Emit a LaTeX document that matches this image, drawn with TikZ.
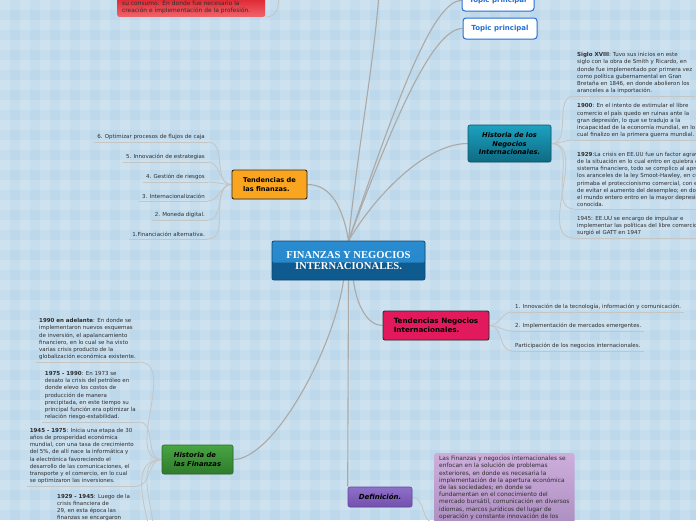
\documentclass[tikz,border=0pt]{standalone}
\usepackage{fontspec}
\setmainfont{DejaVu Sans}
\newfontfamily\titlefont{Liberation Serif}
\usetikzlibrary{positioning,shadows}
\definecolor{mmBg}{HTML}{BED8EB}
\definecolor{mmLink}{HTML}{ABA9A6}
\definecolor{mmTwig}{HTML}{C4C5C5}
\definecolor{mmText}{HTML}{2E2E2E}
\definecolor{mmEdge}{HTML}{2B2B2B}
\definecolor{mmFinTop}{HTML}{2A8CD0}
\definecolor{mmFinBot}{HTML}{0F5A8E}
\definecolor{mmFinLine}{HTML}{0B4A78}
\definecolor{mmTealTop}{HTML}{1CA2C0}
\definecolor{mmTealBot}{HTML}{0E6A83}
\definecolor{mmTealLine}{HTML}{0A5568}
\definecolor{mmOrange}{HTML}{F9A51F}
\definecolor{mmRose}{HTML}{E3195E}
\definecolor{mmGreenTop}{HTML}{48A542}
\definecolor{mmGreenBot}{HTML}{2F7B2C}
\definecolor{mmGreenLine}{HTML}{2A6A28}
\definecolor{mmPurTop}{HTML}{8E6FCA}
\definecolor{mmPurBot}{HTML}{7351AD}
\definecolor{mmPurLine}{HTML}{6446A0}
\definecolor{mmLilacTop}{HTML}{CDAEDB}
\definecolor{mmLilacBot}{HTML}{AE8FC2}
\definecolor{mmRedTop}{HTML}{DE2530}
\definecolor{mmRedBot}{HTML}{F0646C}
\definecolor{mmBlue}{HTML}{2570D4}
\pgfdeclarelayer{bg}
\pgfdeclarelayer{links}
\pgfsetlayers{bg,links,main}
\tikzset{
  mm/.style={x=1pt, y=-1pt},
  fin/.style={draw=mmFinLine, line width=.8pt, rounded corners=2pt, fill=mmFinBot, minimum width=153pt, minimum height=39pt, align=center, text=white, font=\titlefont\fontsize{10.6}{11}\selectfont\bfseries,
    path picture={\shade[top color=mmFinTop, bottom color=mmFinTop!85!mmFinBot] (path picture bounding box.north west) rectangle ([yshift=-2pt]path picture bounding box.east);}},
  topic/.style={draw=mmEdge, line width=.9pt, rounded corners=2pt, align=left, inner sep=0pt, text=black, font=\fontsize{6.6}{9}\selectfont\bfseries, drop shadow={opacity=.2, shadow xshift=.7pt, shadow yshift=-.7pt}},
  itopic/.style={topic, line width=.6pt, font=\fontsize{6.8}{9.5}\selectfont\bfseries\itshape},
  ptopic/.style={draw=mmBlue, line width=1pt, fill=white, rounded corners=3pt, text=mmBlue, font=\fontsize{7}{8}\selectfont\bfseries, minimum height=21pt, inner sep=0pt},
  leaf/.style={font=\fontsize{5.5}{7.2}\selectfont, text=mmText, align=left, inner xsep=3pt, inner ysep=2pt},
  leafL/.style={leaf, anchor=south east},
  leafR/.style={leaf, anchor=south west},
  note/.style={leaf, rounded corners=2pt, inner xsep=5pt, inner ysep=3pt, font=\fontsize{5.9}{7.2}\selectfont},
  link/.style={draw=mmLink, line width=1.1pt},
  twig/.style={draw=mmTwig, line width=.8pt},
}
\begin{document}
\begin{tikzpicture}[mm]
\useasboundingbox (0,0) rectangle (696,520);
\begin{pgfonlayer}{bg}
  \fill[mmBg] (0,0) rectangle (696,520);
  \foreach \k in {0,20,...,680} \fill[white, opacity=.13] (\k,0) rectangle ++(10,520);
  \foreach \k in {0,20,...,500} \fill[white, opacity=.13] (0,\k) rectangle ++(696,10);
\end{pgfonlayer}

\node[fin] (fin) at (348.5,260.5) {FINANZAS Y NEGOCIOS\\INTERNACIONALES.};
\node[topic, fill=mmOrange, minimum width=75pt, minimum height=29pt] (tfin) at (269.5,184.5) {Tendencias de\\las finanzas.};
\node[topic, fill=mmRose, minimum width=106pt, minimum height=29pt, font=\fontsize{7.2}{9}\selectfont\bfseries] (tneg) at (436,325.5) {Tendencias Negocios\\Internacionales.};
\node[itopic, draw=mmGreenLine, top color=mmGreenTop, bottom color=mmGreenBot, minimum width=71pt, minimum height=29pt] (hfin) at (197.5,459.5) {Historia de\\las Finanzas};
\node[itopic, draw=mmTealLine, top color=mmTealTop, bottom color=mmTealBot, align=center, minimum width=83pt, minimum height=37pt, font=\fontsize{6.7}{8.5}\selectfont\bfseries\itshape] (hneg) at (509.5,143.5) {Historia de los\\Negocios\\Internacionales.};
\node[itopic, draw=mmPurLine, top color=mmPurTop, bottom color=mmPurBot, minimum width=64pt, minimum height=20pt, font=\fontsize{7}{9}\selectfont\bfseries\itshape] (def) at (380,497) {Definición.};
\node[ptopic, minimum width=72pt] (tp1) at (498,0.5) {Topic principal};
\node[ptopic, minimum width=74pt] (tp2) at (500,28.5) {Topic principal};

\node[note, top color=mmRedTop, bottom color=mmRedBot, text width=138pt, anchor=south west] (red) at (117,17) {su consumo. En donde fue necesario la\\creación e implementación de la profesión.};
\coordinate (redup) at (276,-40);
\coordinate (upnode) at (380,-20);

\foreach \i/\y/\t in {6/142/{6. Optimizar procesos de flujos de caja}, 5/162/{5. Innovación de estrategias},
                      4/182/{4. Gestión de riesgos}, 3/201/{3. Internacionalización},
                      2/220/{2. Moneda digital.}, 1/239/{1.Financiación alternativa.}}
  \node[leafL] (tf\i) at (208,\y) {\t};

\foreach \i/\y/\t in {1/312/{1. Innovación de la tecnología, información y comunicación.},
                      2/331/{2. Implementación de mercados emergentes.},
                      3/351/{Participación de los negocios internacionales.}}
  \node[leafR] (tn\i) at (512,\y) {\t};

\node[leafR] (hn1) at (574,96) {\textbf{Siglo XVIII}: Tuvo sus inicios en este\\siglo con la obra de Smith y Ricardo, en\\donde fue implementado por primera vez\\como política gubernamental en Gran\\Bretaña en 1846, en donde abolieron los\\aranceles a la importación.};
\node[leafR] (hn2) at (574,140) {\textbf{1900}: En el intento de estimular el libre\\comercio el país quedo en ruinas ante la\\gran depresión, lo que se tradujo a la\\incapacidad de la economía mundial, en lo\\cual finalizo en la primera guerra mundial.};
\node[leafR] (hn3) at (574,209) {\textbf{1929}:La crisis en EE.UU fue un factor agravante\\de la situación en lo cual entro en quiebra el\\sistema financiero, todo se complico al aprobar\\los aranceles de la ley Smoot-Hawley, en cual\\primaba el proteccionismo comercial, con el fin\\de evitar el aumento del desempleo; en donde\\el mundo entero entro en la mayor depresión\\conocida.};
\node[leafR] (hn4) at (574,238) {1945: EE.UU se encargo de impulsar e\\implementar las políticas del libre comercio\\surgió el GATT en 1947};

\node[leafL] (hf1) at (139,362) {\textbf{1990 en adelante}: En donde se\\implementaron nuevos esquemas\\de inversión, el apalancamiento\\financiero, en lo cual se ha visto\\varias crisis producto de la\\globalización económica existente.};
\node[leafL] (hf2) at (139,422) {\textbf{1975 - 1990}: En 1973 se\\desato la crisis del petróleo en\\donde elevo los costos de\\producción de manera\\precipitada, en este tiempo su\\principal función era optimizar la\\relación riesgo-estabilidad.};
\node[leafL] (hf3) at (137,486) {\textbf{1945 - 1975}: Inicia una etapa de 30\\años de prosperidad económica\\mundial, con una tasa de crecimiento\\del 5\%, de allí nace la informática y\\la electrónica favoreciendo el\\desarrollo de las comunicaciones, el\\transporte y el comercio, en lo cual\\se optimizaron las inversiones.};
\node[leaf, anchor=north west] (hf4) at (54,492) {\textbf{1929 - 1945}: Luego de la\\crisis financiera de\\29, en esta época las\\finanzas se encargaron};
\coordinate (hfdown1) at (140,560);
\coordinate (hfdown2) at (140,610);

\node[note, top color=mmLilacTop, bottom color=mmLilacBot, anchor=north west] (defnote) at (434,453) {Las Finanzas y negocios internacionales se\\enfocan en la solución de problemas\\exteriores, en donde es necesaria la\\implementación de la apertura económica\\de las sociedades; en donde se\\fundamentan en el conocimiento del\\mercado bursátil, comunicación en diversos\\idiomas, marcos jurídicos del lugar de\\operación y constante innovación de los};

\begin{pgfonlayer}{links}
  \draw[link] (fin.north) .. controls +(10,-100) and +(-5,80) .. (upnode);
  \draw[link] (fin.north) .. controls +(45,-130) and +(-30,0) .. (tp1.west);
  \draw[link] (fin.north) .. controls +(45,-120) and +(-30,0) .. (tp2.west);
  \draw[link] (fin.north) .. controls +(30,-50) and +(-40,0) .. (hneg.west);
  \draw[link] (fin.north) .. controls +(-5,-30) and +(25,0) .. (tfin.east);
  \draw[link] ([xshift=-5pt]fin.south) .. controls +(-10,70) and +(40,0) .. (hfin.east);
  \draw[link] ([xshift=5pt]fin.south) .. controls +(3,25) and +(-15,0) .. (tneg.west);
  \draw[link] (fin.south) -- (def.north west);
  \draw[twig] (red.south east) to[out=0, in=-95] (redup);
  \foreach \i in {1,...,6} {
    \draw[twig] (tf\i.south west) -- (tf\i.south east);
    \draw[twig] (tfin.west) to[out=180, in=0] (tf\i.south east);
  }
  \foreach \i in {1,2,3} {
    \draw[twig] (tn\i.south west) -- (tn\i.south east);
    \draw[twig] (tneg.east) to[out=0, in=180] (tn\i.south west);
  }
  \foreach \i in {1,...,4} {
    \draw[twig] (hn\i.south west) -- (hn\i.south east);
    \draw[twig] (hneg.east) to[out=0, in=180] (hn\i.south west);
  }
  \foreach \i in {1,2,3} {
    \draw[twig] (hf\i.south west) -- (hf\i.south east);
    \draw[twig] (hfin.west) to[out=180, in=0] (hf\i.south east);
  }
  \draw[twig] (hfin.west) to[out=180, in=0] (hfdown1);
  \draw[twig] (hfin.west) to[out=180, in=0] (hfdown2);
  \draw[twig] (def.east) to[out=0, in=180] (defnote.south west);
\end{pgfonlayer}
\end{tikzpicture}
\end{document}
